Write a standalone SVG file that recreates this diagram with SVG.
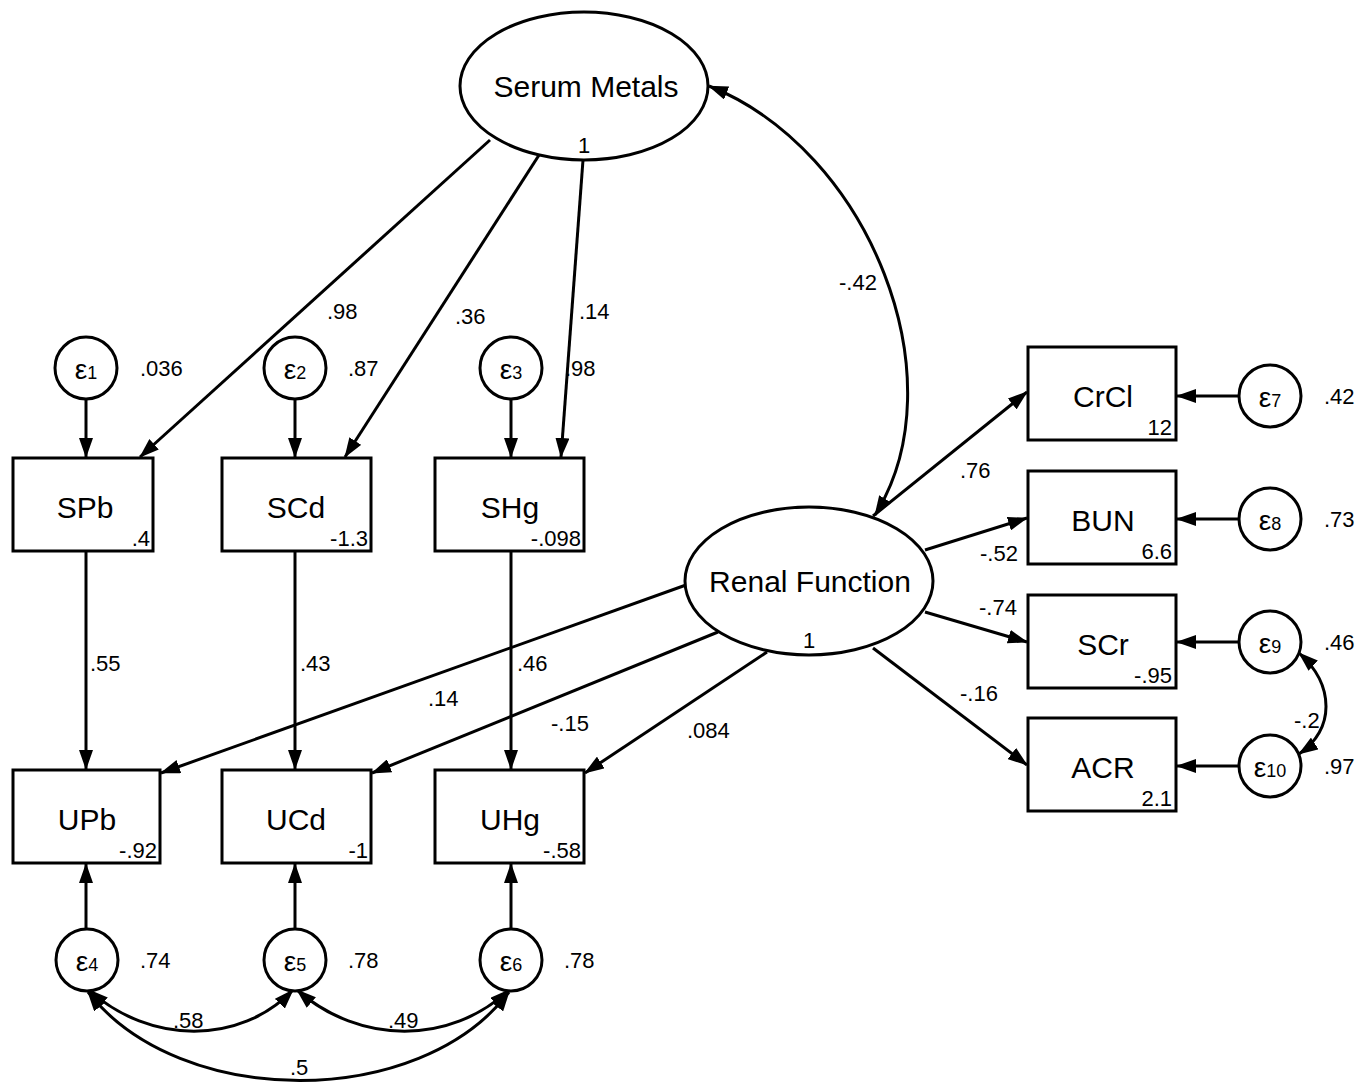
<svg xmlns="http://www.w3.org/2000/svg" width="1368" height="1083" viewBox="0 0 1368 1083">
<style>
.s{fill:#fff;stroke:#000;stroke-width:3}
.c{fill:none;stroke:#000;stroke-width:3}
.t{font-family:"Liberation Sans",Arial,sans-serif;fill:#000}
.n{font-size:30px;text-anchor:middle}
.v{font-size:22px}
.e{font-size:28px;text-anchor:middle}
.e tspan{font-size:18px}
</style>
<defs>
<marker id="a" viewBox="0 0 20 14" refX="19" refY="7" markerWidth="20" markerHeight="14" markerUnits="userSpaceOnUse" orient="auto-start-reverse">
<path d="M0,0 L20,7 L0,14 z" fill="#000"/>
</marker>
</defs>
<rect width="1368" height="1083" fill="#fff"/>
<g id="connectors">
<line class="c" x1="490" y1="140" x2="140" y2="457" marker-end="url(#a)"/>
<line class="c" x1="541" y1="152" x2="345" y2="457" marker-end="url(#a)"/>
<line class="c" x1="583" y1="160" x2="561" y2="457" marker-end="url(#a)"/>
<line class="c" x1="86" y1="399" x2="86" y2="457" marker-end="url(#a)"/>
<line class="c" x1="295" y1="399" x2="295" y2="457" marker-end="url(#a)"/>
<line class="c" x1="511" y1="399" x2="511" y2="457" marker-end="url(#a)"/>
<line class="c" x1="86" y1="551" x2="86" y2="769" marker-end="url(#a)"/>
<line class="c" x1="295" y1="551" x2="295" y2="769" marker-end="url(#a)"/>
<line class="c" x1="511" y1="551" x2="511" y2="769" marker-end="url(#a)"/>
<line class="c" x1="686" y1="585" x2="161" y2="773" marker-end="url(#a)"/>
<line class="c" x1="718" y1="632" x2="372" y2="773" marker-end="url(#a)"/>
<line class="c" x1="767" y1="652" x2="585" y2="773" marker-end="url(#a)"/>
<line class="c" x1="86" y1="929" x2="86" y2="864" marker-end="url(#a)"/>
<line class="c" x1="295" y1="929" x2="295" y2="864" marker-end="url(#a)"/>
<line class="c" x1="511" y1="929" x2="511" y2="864" marker-end="url(#a)"/>
<line class="c" x1="873" y1="516" x2="1027" y2="392" marker-end="url(#a)"/>
<line class="c" x1="925" y1="550" x2="1027" y2="518" marker-end="url(#a)"/>
<line class="c" x1="925" y1="612" x2="1027" y2="642" marker-end="url(#a)"/>
<line class="c" x1="873" y1="648" x2="1027" y2="765" marker-end="url(#a)"/>
<line class="c" x1="1239" y1="396" x2="1177" y2="396" marker-end="url(#a)"/>
<line class="c" x1="1239" y1="519" x2="1177" y2="519" marker-end="url(#a)"/>
<line class="c" x1="1239" y1="642" x2="1177" y2="642" marker-end="url(#a)"/>
<line class="c" x1="1239" y1="766" x2="1177" y2="766" marker-end="url(#a)"/>
<path class="c" d="M709,86 C870,150 960,380 875,515" marker-start="url(#a)" marker-end="url(#a)"/>
<path class="c" d="M1299,653 C1335,685 1335,730 1299,754" marker-start="url(#a)" marker-end="url(#a)"/>
<path class="c" d="M89,990 C150,1045 240,1045 293,990" marker-start="url(#a)" marker-end="url(#a)"/>
<path class="c" d="M297,990 C360,1045 450,1045 509,990" marker-start="url(#a)" marker-end="url(#a)"/>
<path class="c" d="M88,992 C180,1110 420,1110 509,992" marker-start="url(#a)" marker-end="url(#a)"/>
</g>
<g class="t v">
<text x="327" y="319">.98</text>
<text x="455" y="324">.36</text>
<text x="579" y="319">.14</text>
<text x="90" y="671">.55</text>
<text x="300" y="671">.43</text>
<text x="517" y="671">.46</text>
<text x="428" y="706">.14</text>
<text x="551" y="731">-.15</text>
<text x="687" y="738">.084</text>
<text x="839" y="290">-.42</text>
<text x="960" y="478">.76</text>
<text x="980" y="561">-.52</text>
<text x="979" y="615">-.74</text>
<text x="960" y="701">-.16</text>
<text x="1294" y="728">-.2</text>
<text x="173" y="1028">.58</text>
<text x="388" y="1028">.49</text>
<text x="290" y="1075">.5</text>
</g>
<g id="SerumMetals">
<ellipse class="s" cx="584" cy="86" rx="124" ry="74"/>
<text class="t n" x="586" y="97">Serum Metals</text>
<text class="t v" x="584" y="153" text-anchor="middle">1</text>
</g>
<g id="RenalFunction">
<ellipse class="s" cx="809" cy="581" rx="124" ry="74"/>
<text class="t n" x="810" y="592">Renal Function</text>
<text class="t v" x="809" y="648" text-anchor="middle">1</text>
</g>
<g id="SPb"><rect class="s" x="13" y="458" width="140" height="93"/><text class="t n" x="85" y="518">SPb</text><text class="t v" x="150" y="546" text-anchor="end">.4</text></g>
<g id="SCd"><rect class="s" x="222" y="458" width="149" height="93"/><text class="t n" x="296" y="518">SCd</text><text class="t v" x="368" y="546" text-anchor="end">-1.3</text></g>
<g id="SHg"><rect class="s" x="435" y="458" width="149" height="93"/><text class="t n" x="510" y="518">SHg</text><text class="t v" x="581" y="546" text-anchor="end">-.098</text></g>
<g id="UPb"><rect class="s" x="13" y="770" width="147" height="93"/><text class="t n" x="87" y="830">UPb</text><text class="t v" x="157" y="858" text-anchor="end">-.92</text></g>
<g id="UCd"><rect class="s" x="222" y="770" width="149" height="93"/><text class="t n" x="296" y="830">UCd</text><text class="t v" x="368" y="858" text-anchor="end">-1</text></g>
<g id="UHg"><rect class="s" x="435" y="770" width="149" height="93"/><text class="t n" x="510" y="830">UHg</text><text class="t v" x="581" y="858" text-anchor="end">-.58</text></g>
<g id="CrCl"><rect class="s" x="1028" y="347" width="148" height="93"/><text class="t n" x="1103" y="407">CrCl</text><text class="t v" x="1172" y="435" text-anchor="end">12</text></g>
<g id="BUN"><rect class="s" x="1028" y="471" width="148" height="93"/><text class="t n" x="1103" y="531">BUN</text><text class="t v" x="1172" y="559" text-anchor="end">6.6</text></g>
<g id="SCr"><rect class="s" x="1028" y="595" width="148" height="93"/><text class="t n" x="1103" y="655">SCr</text><text class="t v" x="1172" y="683" text-anchor="end">-.95</text></g>
<g id="ACR"><rect class="s" x="1028" y="718" width="148" height="93"/><text class="t n" x="1103" y="778">ACR</text><text class="t v" x="1172" y="806" text-anchor="end">2.1</text></g>
<g id="e1"><circle class="s" cx="86" cy="368" r="31"/><text class="t e" x="86" y="379">ε<tspan>1</tspan></text><text class="t v" x="140" y="376">.036</text></g>
<g id="e2"><circle class="s" cx="295" cy="368" r="31"/><text class="t e" x="295" y="379">ε<tspan>2</tspan></text><text class="t v" x="348" y="376">.87</text></g>
<g id="e3"><circle class="s" cx="511" cy="368" r="31"/><text class="t e" x="511" y="379">ε<tspan>3</tspan></text><text class="t v" x="565" y="376">.98</text></g>
<g id="e4"><circle class="s" cx="87" cy="960" r="31"/><text class="t e" x="87" y="971">ε<tspan>4</tspan></text><text class="t v" x="140" y="968">.74</text></g>
<g id="e5"><circle class="s" cx="295" cy="960" r="31"/><text class="t e" x="295" y="971">ε<tspan>5</tspan></text><text class="t v" x="348" y="968">.78</text></g>
<g id="e6"><circle class="s" cx="511" cy="960" r="31"/><text class="t e" x="511" y="971">ε<tspan>6</tspan></text><text class="t v" x="564" y="968">.78</text></g>
<g id="e7"><circle class="s" cx="1270" cy="396" r="31"/><text class="t e" x="1270" y="407">ε<tspan>7</tspan></text><text class="t v" x="1324" y="404">.42</text></g>
<g id="e8"><circle class="s" cx="1270" cy="519" r="31"/><text class="t e" x="1270" y="530">ε<tspan>8</tspan></text><text class="t v" x="1324" y="527">.73</text></g>
<g id="e9"><circle class="s" cx="1270" cy="642" r="31"/><text class="t e" x="1270" y="653">ε<tspan>9</tspan></text><text class="t v" x="1324" y="650">.46</text></g>
<g id="e10"><circle class="s" cx="1270" cy="766" r="31"/><text class="t e" x="1270" y="777">ε<tspan>10</tspan></text><text class="t v" x="1324" y="774">.97</text></g>
</svg>
